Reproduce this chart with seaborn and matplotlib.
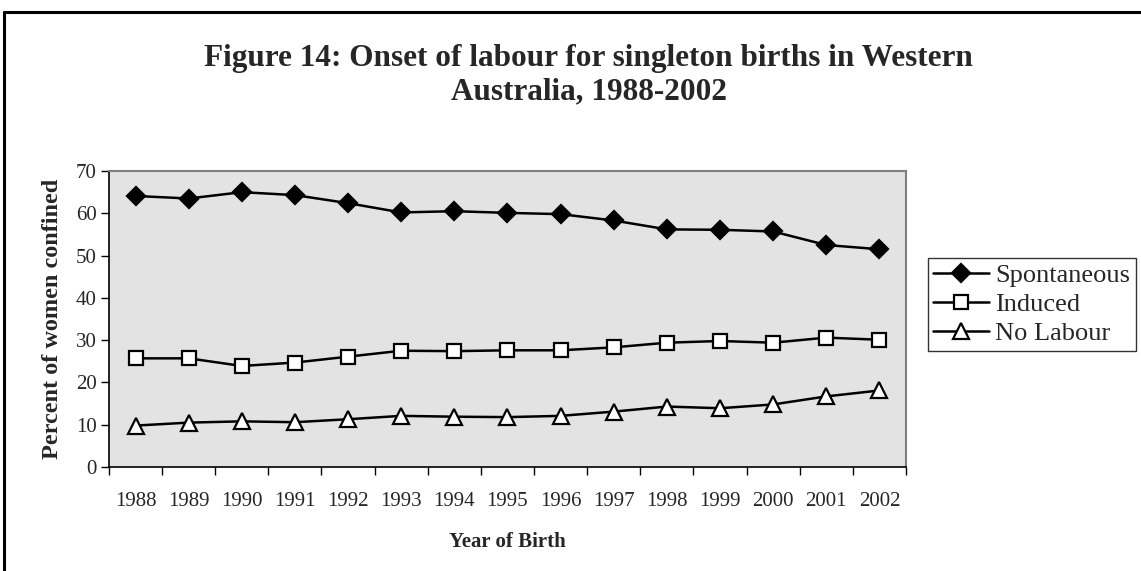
import numpy as np
import pandas as pd
import matplotlib
matplotlib.use("Agg")
import matplotlib.pyplot as plt
import seaborn as sns
from matplotlib.lines import Line2D

# Chart data
years = ["1988", "1989", "1990", "1991", "1992", "1993", "1994", "1995",
         "1996", "1997", "1998", "1999", "2000", "2001", "2002"]
spontaneous = [64.1, 63.5, 65.0, 64.3, 62.4, 60.2, 60.5, 60.1, 59.8, 58.3,
               56.2, 56.1, 55.7, 52.5, 51.5]
induced = [25.7, 25.7, 23.9, 24.7, 26.1, 27.5, 27.4, 27.6, 27.6, 28.3,
           29.4, 29.8, 29.4, 30.6, 30.1]
no_labour = [9.8, 10.5, 10.8, 10.6, 11.3, 12.1, 11.9, 11.8, 12.1, 13.1,
             14.3, 13.9, 14.8, 16.7, 18.1]
series_names = ["Spontaneous", "Induced", "No Labour"]
y_ticks = [0, 10, 20, 30, 40, 50, 60, 70]

sns.set_theme(style="white")
plt.rcParams["font.family"] = ["Liberation Serif", "DejaVu Serif"]

df = pd.DataFrame({
    "pos": np.tile(np.arange(len(years)), 3),
    "value": spontaneous + induced + no_labour,
    "series": np.repeat(series_names, len(years)),
})

fig = plt.figure(figsize=(11.41, 5.71), dpi=100)
ax = fig.add_axes([0.0955, 0.1821, 0.6985, 0.5184])
ax.set_facecolor("#E3E3E3")

marker_styles = {
    "Spontaneous": dict(marker="D", markerfacecolor="black", markersize=9),
    "Induced": dict(marker="s", markerfacecolor="white", markersize=9.5),
    "No Labour": dict(marker="^", markerfacecolor="white", markersize=11),
}

for name in series_names:
    sub = df[df["series"] == name]
    sns.lineplot(data=sub, x="pos", y="value", ax=ax, color="black",
                 linewidth=1.8, markeredgecolor="black", markeredgewidth=1.6,
                 label=name, legend=False, **marker_styles[name])

ax.set_xlim(-0.5, len(years) - 0.5)
ax.set_ylim(0, 70)
ax.set_yticks(y_ticks)
ax.set_yticklabels([str(t) for t in y_ticks], fontsize=15)
ax.set_xticks(np.arange(-0.5, len(years), 1.0))
ax.set_xticklabels([])
ax.set_xticks(np.arange(len(years)), minor=True)
ax.set_xticklabels(years, minor=True, fontsize=15)
ax.tick_params(axis="x", which="major", direction="out", length=6, width=1, color="black", bottom=True)
ax.tick_params(axis="x", which="minor", length=0, pad=18)
ax.tick_params(axis="y", direction="out", length=6, width=1, color="black", left=True, pad=3)

for side in ["top", "right"]:
    ax.spines[side].set_color("#808080")
    ax.spines[side].set_linewidth(1.5)
for side in ["left", "bottom"]:
    ax.spines[side].set_color("black")
    ax.spines[side].set_linewidth(1.2)

ax.set_xlabel("Year of Birth", fontsize=15, fontweight="bold", labelpad=15)
ax.set_ylabel("Percent of women confined", fontsize=17.5, fontweight="bold", labelpad=9)

fig.text(0.516, 0.868, "Figure 14: Onset of labour for singleton births in Western\nAustralia, 1988-2002",
         ha="center", va="center", fontsize=22.5, fontweight="bold", linespacing=1.2)

handles, labels = ax.get_legend_handles_labels()
leg = fig.legend(handles, labels, loc="upper left", bbox_to_anchor=(928 / 1141, 1 - 258 / 571),
                 frameon=True, fancybox=False, fontsize=19, handlelength=2.1,
                 handletextpad=0.25, borderpad=0.2, labelspacing=0.22, borderaxespad=0)
leg.get_frame().set_edgecolor("black")
leg.get_frame().set_linewidth(1.0)

# outer chart border (left and top visible)
fig.add_artist(Line2D([4 / 1141, 4 / 1141], [0, 1 - 12 / 571], transform=fig.transFigure,
                      color="black", linewidth=2.2))
fig.add_artist(Line2D([4 / 1141, 1], [1 - 12 / 571, 1 - 12 / 571], transform=fig.transFigure,
                      color="black", linewidth=2.2))

fig.savefig("out.png", dpi=100)
